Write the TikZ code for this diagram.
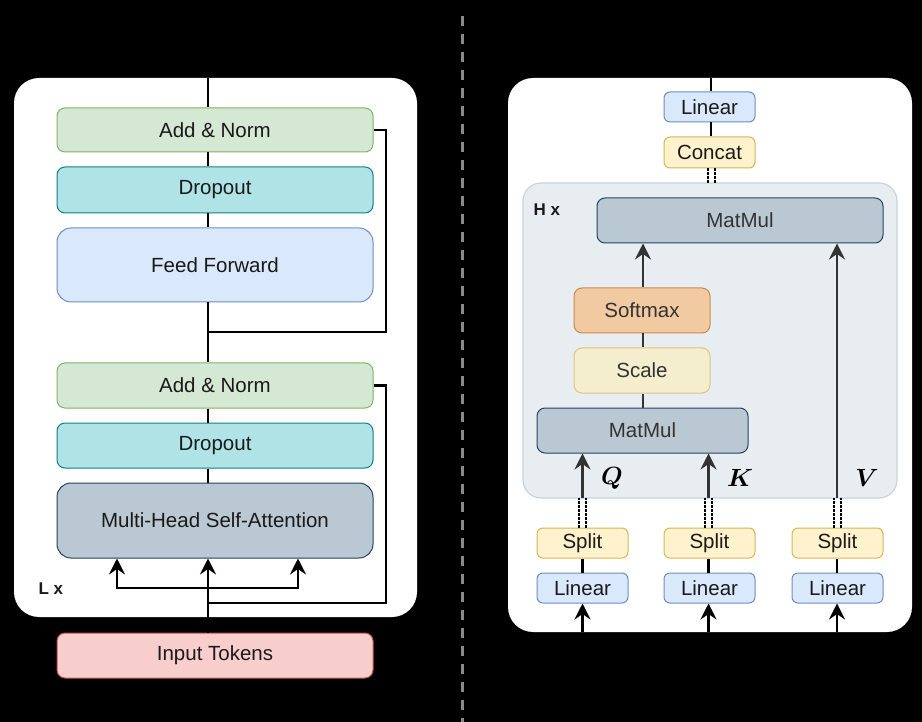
\documentclass[tikz,border=0pt]{standalone}
\usepackage{fontspec}
\usepackage{amsmath,bm}
\setmainfont{Liberation Sans}
\usetikzlibrary{arrows.meta,calc}
\definecolor{anF}{HTML}{D5E8D4}\definecolor{anD}{HTML}{82B366}
\definecolor{doF}{HTML}{B0E3E6}\definecolor{doD}{HTML}{0E8088}
\definecolor{blF}{HTML}{DAE8FC}\definecolor{blD}{HTML}{6C8EBF}
\definecolor{gyF}{HTML}{BAC8D3}\definecolor{gyD}{HTML}{23445D}
\definecolor{rdF}{HTML}{F8CECC}\definecolor{rdD}{HTML}{B85450}
\definecolor{ylF}{HTML}{FFF2CC}\definecolor{ylD}{HTML}{D6B656}
\definecolor{orF}{HTML}{F2CAA2}\definecolor{orD}{HTML}{C9894C}
\definecolor{scF}{HTML}{F4EECF}\definecolor{scD}{HTML}{D9C681}
\definecolor{hF}{HTML}{E8EDF2}\definecolor{hD}{HTML}{C9D2DB}
\definecolor{txt}{HTML}{1A1A1A}\definecolor{txtg}{HTML}{333333}
\definecolor{sep}{HTML}{8A8A8A}
\begin{document}
\begin{tikzpicture}[x=1pt,y=-1pt,
  box/.style={draw, line width=1pt, rounded corners=8pt, align=center, inner sep=0pt,
    font=\fontsize{20.5}{24}\selectfont, text=txt},
  wbox/.style={box, minimum width=316pt},
  sbox/.style={box, minimum width=91pt, minimum height=30pt, rounded corners=6pt},
  hbox/.style={box, text=txtg},
  wire/.style={line width=2.3pt, black},
  rwire/.style={line width=2.3pt, txtg},
  arr/.style={-{Stealth[length=16pt,width=16pt,inset=5.5pt]}},
  dots/.style={line width=2pt, black, dash pattern=on 2.4pt off 1.6pt},
  panel/.style={fill=white, rounded corners=25pt},
  lbl/.style={font=\bfseries\fontsize{17}{19}\selectfont, text=txt},
  qkv/.style={font=\fontsize{23}{26}\selectfont}
]
\useasboundingbox (0,0) rectangle (922,722);
\fill[black] (0,0) rectangle (922,722);
\draw[sep, line width=3pt, dash pattern=on 10pt off 8pt] (462,16) -- (462,722);

% ---------------- left panel ----------------
\fill[panel] (14,78) rectangle (417,617);
\coordinate (ltop) at (208,78);
\node[wbox, fill=anF, draw=anD, minimum height=44pt] (an1) at (215,130) {Add \& Norm};
\node[wbox, fill=doF, draw=doD, minimum height=46pt] (do1) at (215,190) {Dropout};
\node[wbox, fill=blF, draw=blD, minimum height=74pt, rounded corners=14pt] (ff) at (215,265) {Feed Forward};
\node[wbox, fill=anF, draw=anD, minimum height=45pt] (an2) at (215,385.5) {Add \& Norm};
\node[wbox, fill=doF, draw=doD, minimum height=45pt] (do2) at (215,445.5) {Dropout};
\node[wbox, fill=gyF, draw=gyD, minimum height=75pt, rounded corners=14pt] (mhsa) at (215,520.5) {Multi-Head Self-Attention};
\node[wbox, fill=rdF, draw=rdD, minimum height=45pt] (inp) at (215,655.5) {Input Tokens};
\node[lbl, anchor=west] (lx) at (35,589) {L x};

\coordinate (r1) at (208,332);
\coordinate (r1e) at (386,332);
\coordinate (r2) at (208,603);
\coordinate (r2e) at (386,603);
\coordinate (bl) at (117,588);
\coordinate (br) at (298,588);

\draw[wire] (ltop) -- (an1.north -| ltop);
\draw[wire] (an1.south -| ltop) -- (do1.north -| ltop);
\draw[wire] (do1.south -| ltop) -- (ff.north -| ltop);
\draw[wire] (ff.south -| ltop) -- (an2.north -| ltop);
\draw[wire] (an2.south -| ltop) -- (do2.north -| ltop);
\draw[wire] (do2.south -| ltop) -- (mhsa.north -| ltop);
\draw[wire] (r1) -- (r1e) |- (an1.east);
\draw[wire] (r2) -- (r2e) |- (an2.east);
\draw[wire, arr] (inp.north -| ltop) -- (mhsa.south -| ltop);
\draw[wire, arr] (bl -| ltop) -- (bl) -- (mhsa.south -| bl);
\draw[wire, arr] (bl -| ltop) -- (br) -- (mhsa.south -| br);

% ---------------- right panel ----------------
\fill[panel] (508,78) rectangle (912,632);
\draw[fill=hF, draw=hD, line width=1.2pt, rounded corners=18pt] (523,183) rectangle (897,498);
\coordinate (hT) at (711,183);
\coordinate (hB) at (700,498);
\coordinate (rtop) at (711,78);
\node[sbox, fill=blF, draw=blD] (lin0) at (709.5,107) {Linear};
\node[sbox, fill=ylF, draw=ylD, minimum height=31pt] (cat) at (709.5,152.5) {Concat};
\node[hbox, fill=gyF, draw=gyD, minimum width=286pt, minimum height=45pt] (mm1) at (740,220.5) {MatMul};
\node[hbox, fill=orF, draw=orD, minimum width=136pt, minimum height=45pt] (soft) at (642,310.5) {Softmax};
\node[hbox, fill=scF, draw=scD, minimum width=136pt, minimum height=45pt] (scale) at (642,370.5) {Scale};
\node[hbox, fill=gyF, draw=gyD, minimum width=211pt, minimum height=45pt] (mm2) at (642.5,430.5) {MatMul};
\node[lbl, anchor=west] (hx) at (530,210) {H x};

\node[sbox, fill=ylF, draw=ylD] (spQ) at (582.5,543) {Split};
\node[sbox, fill=ylF, draw=ylD] (spK) at (709.5,543) {Split};
\node[sbox, fill=ylF, draw=ylD] (spV) at (837.5,543) {Split};
\node[sbox, fill=blF, draw=blD] (lnQ) at (582.5,588) {Linear};
\node[sbox, fill=blF, draw=blD] (lnK) at (709.5,588) {Linear};
\node[sbox, fill=blF, draw=blD] (lnV) at (837.5,588) {Linear};

\node[qkv] (q) at (612,478) {$\bm{Q}$};
\node[qkv] (k) at (740,478) {$\bm{K}$};
\node[qkv] (v) at (867,478) {$\bm{V}$};

\coordinate (xQ) at (582.5,632);
\coordinate (xK) at (708.5,632);
\coordinate (xV) at (837,632);
\coordinate (xS) at (643,0);

\draw[wire] (rtop) -- (lin0.north -| rtop);
\draw[wire] (lin0.south -| rtop) -- (cat.north -| rtop);
\draw[dots] ($(cat.south -| rtop)+(-3.5,0)$) -- ($(hT)+(-3.5,0)$);
\draw[dots] ($(cat.south -| rtop)+(3.5,0)$) -- ($(hT)+(3.5,0)$);

\draw[rwire, arr] (soft.north -| xS) -- (mm1.south -| xS);
\draw[rwire] (scale.north -| xS) -- (soft.south -| xS);
\draw[rwire] (mm2.north -| xS) -- (scale.south -| xS);

\foreach \s/\l/\x in {spQ/lnQ/xQ, spK/lnK/xK, spV/lnV/xV}{
  \draw[wire, arr] (\x) -- (\l.south -| \x);
  \draw[wire] (\l.north -| \x) -- (\s.south -| \x);
  \draw[dots] ($(\s.north -| \x)+(-3.5,0)$) -- ($(hB -| \x)+(-3.5,0)$);
  \draw[dots] ($(\s.north -| \x)+(3.5,0)$) -- ($(hB -| \x)+(3.5,0)$);
}
\draw[rwire, arr] (hB -| xQ) -- (mm2.south -| xQ);
\draw[rwire, arr] (hB -| xK) -- (mm2.south -| xK);
\draw[rwire, arr] (hB -| xV) -- (mm1.south -| xV);
\end{tikzpicture}
\end{document}
